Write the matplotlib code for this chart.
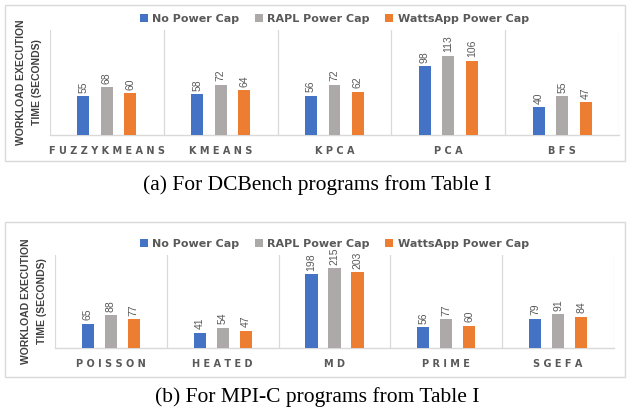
import numpy as np
import matplotlib
matplotlib.use('Agg')
import matplotlib.pyplot as plt
from matplotlib.patches import Rectangle

# data
series = ['No Power Cap', 'RAPL Power Cap', 'WattsApp Power Cap']
colors = ['#4472C4', '#ADA9A8', '#ED7D31']

progsA = ['FUZZYKMEANS', 'KMEANS', 'KPCA', 'PCA', 'BFS']
noCapA = [55, 58, 56, 98, 40]
raplA = [68, 72, 72, 113, 55]
wattsA = [60, 64, 62, 106, 47]

progsB = ['POISSON', 'HEATED', 'MD', 'PRIME', 'SGEFA']
noCapB = [65, 41, 198, 56, 79]
raplB = [88, 54, 215, 77, 91]
wattsB = [77, 47, 203, 60, 84]

W, H = 630, 411
txtCol = '#595959'
lineCol = '#D9D9D9'

def px(left, top, right, bottom):
	return [left/W, 1-bottom/H, (right-left)/W, (bottom-top)/H]

def panel(fig, rect, progs, vals, ymax, bw):
	ax = fig.add_axes(rect)
	x = np.arange(len(progs))
	offs = [-0.206, 0, 0.206]
	for k in range(3):
		bars = ax.bar(x+offs[k], vals[k], bw, color=colors[k], label=series[k], zorder=3)
		for b, v in zip(bars, vals[k]):
			ax.annotate(str(v), (b.get_x()+b.get_width()/2, b.get_height()), xytext=(0, 2.5),
				textcoords='offset points', ha='center', va='bottom', rotation=90,
				fontsize=7.5, color=txtCol, family='Liberation Sans')
	for s in np.arange(-0.5, len(progs), 1.0):
		ax.axvline(s, color=lineCol, lw=0.9, zorder=1)
	ax.set_xlim(-0.5, len(progs)-0.5)
	ax.set_ylim(0, ymax)
	for sp in ['top', 'right', 'left']:
		ax.spines[sp].set_visible(False)
	ax.spines['bottom'].set_color(lineCol)
	ax.spines['bottom'].set_linewidth(1.0)
	ax.set_yticks([])
	ax.set_xticks(x)
	ax.set_xticklabels([' '.join(p) for p in progs], fontsize=7, fontweight='bold', color=txtCol)
	ax.tick_params(axis='x', length=0, pad=8)
	ax.set_ylabel('WORKLOAD EXECUTION\nTIME (SECONDS)', fontsize=7.5, fontweight='bold',
		color='#404040', family='Liberation Sans', labelpad=6, linespacing=1.7)
	leg = ax.legend(loc='lower center', bbox_to_anchor=(0.5, 0.96), ncol=3, frameon=False,
		handlelength=0.7, handleheight=0.7, handletextpad=0.4, columnspacing=1.4,
		prop={'size': 8, 'weight': 'bold'})
	for t in leg.get_texts():
		t.set_color(txtCol)
	return ax

fig = plt.figure(figsize=(6.3, 4.11), dpi=100)

fig.patches.append(Rectangle((5/W, 1-161/H), 620/W, 156/H, transform=fig.transFigure,
	fill=False, edgecolor=lineCol, lw=1.0))
fig.patches.append(Rectangle((5/W, 1-377/H), 620/W, 155/H, transform=fig.transFigure,
	fill=False, edgecolor=lineCol, lw=1.0))

panel(fig, px(50, 30, 619, 135), progsA, [noCapA, raplA, wattsA], 150, 0.105)
panel(fig, px(55, 255, 614, 348), progsB, [noCapB, raplB, wattsB], 250, 0.11)

fig.text(317/W, 1-185/H, '(a) For DCBench programs from Table I', ha='center', va='center',
	fontsize=15.5, family='Liberation Serif')
fig.text(317/W, 1-397/H, '(b) For MPI-C programs from Table I', ha='center', va='center',
	fontsize=15.5, family='Liberation Serif')

plt.savefig('out.png', dpi=100)
